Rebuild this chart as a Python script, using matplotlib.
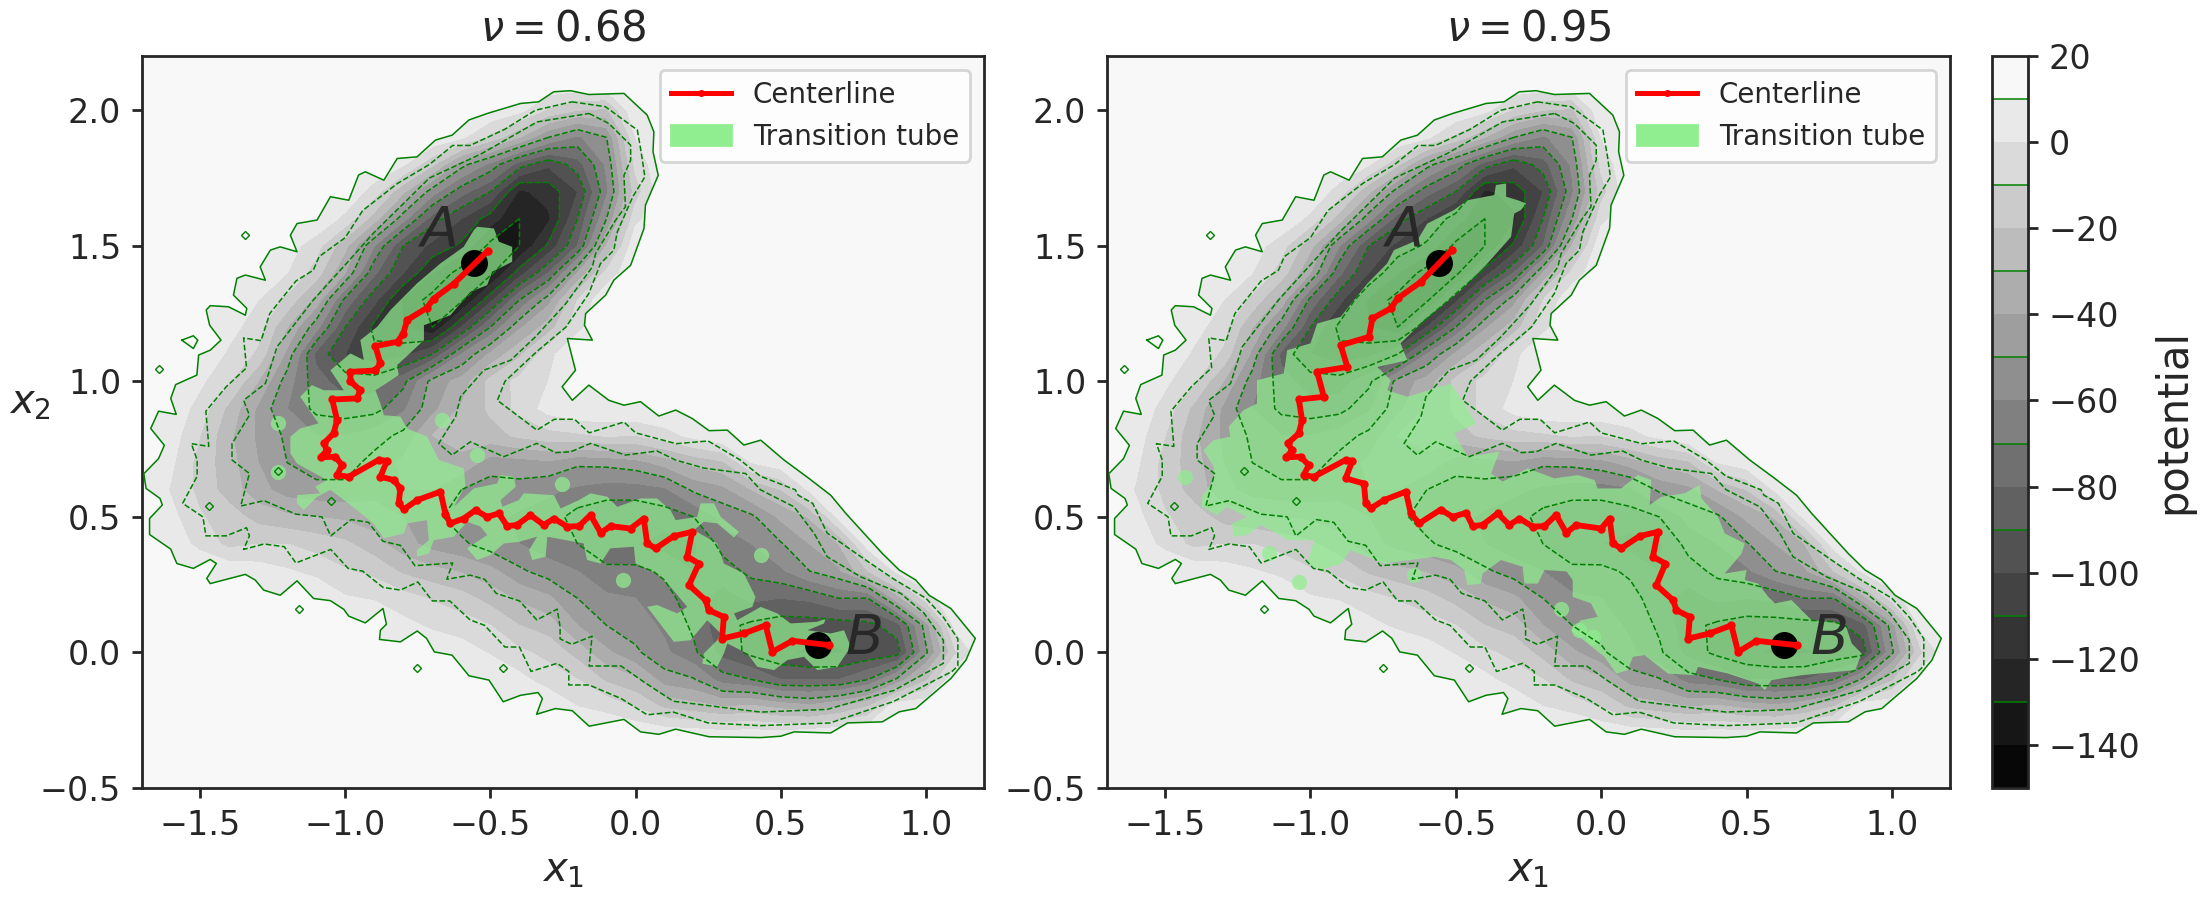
import numpy as np
import matplotlib
matplotlib.use("Agg")
import matplotlib.pyplot as plt
from matplotlib.patches import Patch, Polygon
from matplotlib.lines import Line2D

plt.rcParams["font.family"] = ["DejaVu Sans"]
plt.rcParams["text.color"] = ".15"
plt.rcParams["axes.labelcolor"] = ".15"
plt.rcParams["xtick.color"] = ".15"
plt.rcParams["ytick.color"] = ".15"
plt.rcParams["axes.edgecolor"] = ".15"

# potential surface, top row first
x_grid = [-1.7, -1.6, -1.5, -1.4, -1.3, -1.2, -1.1, -1.0, -0.9, -0.8, -0.7, -0.6, -0.5, -0.4, -0.3,
          -0.2, -0.1, 0.0, 0.1, 0.2, 0.3, 0.4, 0.5, 0.6, 0.7, 0.8, 0.9, 1.0, 1.1, 1.2]
y_grid = [2.2, 2.1, 2.0, 1.9, 1.8, 1.7, 1.6, 1.5, 1.4, 1.3, 1.2, 1.1, 1.0, 0.9, 0.8, 0.7, 0.6, 0.5,
          0.4, 0.3, 0.2, 0.1, 0.0, -0.1, -0.2, -0.3, -0.4, -0.5]
potential = [
    [9] * 30,
    [9] * 30,
    [9] * 12 + [9, 3, -12, -20, -22, 9] + [9] * 12,
    [9] * 10 + [9, 2, -13, -30, -50, -62, -50, 0] + [9] * 12,
    [9] * 8 + [9, 1, -18, -46, -63, -85, -98, -85, -58, -7] + [9] * 12,
    [9] * 7 + [9, -5, -28, -55, -76, -90, -122, -116, -100, -62, -15] + [9] * 12,
    [9] * 6 + [9, -3, -25, -56, -85, -100, -115, -130, -122, -90, -50, -3] + [9] * 12,
    [9] * 5 + [5, -6, -27, -60, -90, -103, -112, -133, -130, -108, -80, -30, 8] + [9] * 12,
    [9] * 3 + [9, 6, 0, -15, -40, -78, -100, -120, -135, -133, -105, -80, -40, -7, 9] + [9] * 12,
    [9] * 3 + [7, 0, -13, -34, -73, -97, -122, -134, -132, -103, -70, -44, -10, 9] + [9] * 13,
    [9] * 2 + [9, 4, -6, -30, -56, -90, -113, -120, -130, -100, -70, -42, -25, -3] + [9] * 14,
    [9] * 2 + [9, -2, -12, -43, -83, -100, -107, -103, -90, -60, -38, -22, -3, 9] + [9] * 14,
    [9, 9, 2, -9, -30, -55, -76, -85, -85, -73, -46, -36, -17, -7, 0, 9] + [9] * 14,
    [9, 7, -4, -23, -42, -60, -73, -76, -74, -62, -43, -29, -18, -7, 4, 9, 9, 9, 9] + [9] * 11,
    [9, 5, -10, -28, -42, -52, -60, -60, -55, -47, -30, -26, -24, -18, -14, -12, -9, -10, -4, 3, 9] + [9] * 9,
    [9, 2, -14, -26, -40, -50, -55, -55, -46, -38, -34, -33, -45, -44, -42, -48, -47, -44, -36, -27, -22, 0, 6] + [9] * 7,
    [9, -1, -13, -25, -36, -45, -47, -47, -44, -40, -40, -50, -55, -54, -58, -62, -65, -65, -62, -48, -43, -30, -20, 2] + [9] * 6,
    [9, 3, -9, -15, -24, -28, -30, -32, -35, -40, -47, -55, -57, -62, -65, -74, -78, -78, -75, -70, -57, -52, -38, -29, 3] + [9] * 5,
    [9, 6, -3, -13, -10, -10, -14, -18, -26, -36, -44, -48, -55, -60, -66, -70, -76, -80, -84, -82, -66, -60, -51, -40, -30, 5] + [9] * 4,
    [9, 9, 9, 7, 5, 1, -3, -9, -13, -22, -27, -31, -37, -48, -55, -60, -68, -67, -72, -80, -75, -67, -62, -50, -42, -20, 2, 9, 9, 9],
    [9, 9, 9, 9, 9, 9, 9, 1, -1, -6, -11, -16, -24, -32, -38, -50, -58, -60, -66, -76, -84, -78, -80, -78, -70, -70, -35, -5, 9, 9],
    [9, 9, 9, 9, 9, 9, 9, 9, 9, 3, -2, -5, -10, -20, -25, -40, -50, -55, -62, -72, -87, -92, -95, -95, -95, -93, -85, -45, 3, 9],
    [9] * 8 + [9, 9, 9, 5, -1, -8, -13, -24, -38, -48, -58, -68, -84, -93, -98, -102, -101, -98, -95, -52, -12, 9],
    [9] * 9 + [9, 9, 9, 9, 3, -5, -10, -22, -28, -45, -49, -65, -70, -80, -80, -80, -70, -48, -22, 8, 9],
    [9] * 12 + [9, 9, 9, 0, -3, -11, -22, -26, -30, -28, -33, -37, -30, -20, 9, 9, 9, 9],
    [9] * 14 + [9, 9, 9, 9, 7, 6, 4, 5, 4, 7, 9] + [9] * 5,
    [9] * 30,
    [9] * 30,
]

# outermost contour (potential = 10)
rim_x = [-1.693, -1.643, -1.623, -1.67, -1.643, -1.582, -1.601, -1.584, -1.511, -1.505, -1.465, -1.428, -1.467, -1.479, -1.465, -1.402, -1.344,
         -1.339, -1.385, -1.373, -1.344, -1.275, -1.293, -1.258, -1.224, -1.166, -1.189, -1.166, -1.097, -1.051, -.988, -.954, -.931, -.867,
         -.821, -.753, -.689, -.632, -.574, -.511, -.396, -.334, -.282, -.224, -.161, -.04, .04, .063, .06, .078, .034, .029, -.017, -.075,
         -.103, -.172, -.176, -.149, -.235, -.207, -.253, -.218, -.161, -.092, -.04, .017, .08, .138, .195, .253, .316, .373, .431, .511,
         .597, .672, .724, .787, .85, .908, .965, 1.011, 1.086, 1.17, 1.138, 1.086, .965, .908, .85, .73, .672, .546, .5, .431, .253, .138,
         .08, .017, -.04, -.16, -.218, -.276, -.341, -.321, -.336, -.396, -.456, -.505, -.574, -.632, -.693, -.72, -.752, -.81, -.882, -.879,
         -.858, -.87, -.931, -.988, -1.005, -1.051, -1.109, -1.166, -1.224, -1.281, -1.31, -1.344, -1.465, -1.477, -1.444, -1.465, -1.523,
         -1.58, -1.601, -1.674, -1.674, -1.63, -1.638, -1.686, -1.693]
rim_y = [.66, .715, .764, .826, .89, .878, .937, .988, 1.023, 1.097, 1.115, 1.152, 1.207, 1.263, 1.279, 1.275, 1.244,
         1.269, 1.318, 1.38, 1.392, 1.373, 1.422, 1.484, 1.496, 1.478, 1.539, 1.582, 1.595, 1.681, 1.668, 1.761, 1.773, 1.742,
         1.822, 1.828, 1.89, 1.908, 1.964, 1.988, 2.025, 2.031, 2.068, 2.072, 2.058, 2.062, 1.982, 1.92, 1.847, 1.76, 1.65, 1.564, 1.428, 1.373,
         1.318, 1.25, 1.207, 1.152, 1.158, 1.041, .98, .93, .986, .93, .912, .925, .872, .894, .863, .818, .82, .765, .783, .71,
         .642, .58, .513, .439, .365, .304, .267, .211, .162, .052, -.028, -.096, -.207, -.219, -.256, -.26, -.297, -.293, -.309, -.314, -.311, -.283,
         -.302, -.293, -.247, -.272, -.215, -.207, -.228, -.17, -.148, -.158, -.182, -.102, -.086, -.01, .002, .052, .079, .039, .048, .082,
         .104, .162, .109, .134, .159, .191, .199, .264, .211, .23, .267, .288, .254, .273, .328, .343, .31,
         .328, .381, .435, .494, .544, .568, .605, .654]

# potential = -10 and -30 contours
minus10_x = [-.219, -.104, .006, .02, .032, -.01, -.063, -.075, -.121, -.161, -.24, -.34, -.45, -.476, -.34, -.28, -.21, -.16, -.04, 0, .14, .25, .36, .43,
             .55, .56, .61, .66, .78, .89, 1.0, 1.06, 1.11, 1.11, 1.09, .89, .67, .43, .25, .13, .04, -.05, -.16, -.23, -.23, -.27, -.36, -.40, -.45, -.52,
             -.57, -.64, -.70, -.75, -.81, -.87, -.94, -.99, -1.05, -1.17, -1.21, -1.28, -1.35, -1.33, -1.34, -1.41, -1.48, -1.49, -1.56, -1.51, -1.51,
             -1.53, -1.47, -1.48, -1.41, -1.34, -1.35, -1.29, -1.26, -1.17, -1.11, -1.09, -1.0, -.94, -.82, -.71, -.63, -.57, -.45, -.345, -.219]
minus10_y = [2.031, 2.013, 1.927, 1.84, 1.754, 1.68, 1.551, 1.484, 1.434, 1.324, 1.2, 1.11, 1.0, .93, .82, .86, .86, .81, .85, .81, .77, .78, .71, .65,
             .60, .58, .55, .44, .35, .27, .20, .13, .05, -.05, -.07, -.18, -.26, -.27, -.26, -.22, -.23, -.17, -.12, -.12, -.07, -.04, -.07, .02, .02, .10,
             .12, .19, .19, .26, .23, .24, .30, .31, .38, .33, .39, .40, .38, .43, .46, .43, .43, .50, .55, .65, .71,
             .77, .76, .89, .98, 1.05, 1.16, 1.15, 1.25, 1.37, 1.41, 1.46, 1.53, 1.63, 1.73, 1.80, 1.87, 1.87, 1.93, 2.0, 2.031]
minus30_x = [-.16, -.092, -.017, -.017, -.04, -.035, -.069, -.138, -.149, -.24, -.345, -.43, -.523, -.603, -.62, -.678, -.632, -.569, -.454, -.34, -.275,
             -.224, -.155, -.035, .074, .137, .235, .327, .379, .43, .546, .615, .66, .775, .913, .994, 1.06, 1.06, .89, .66, .43, .13, .03, -.05, -.16,
             -.15, -.22, -.26, -.26, -.27, -.34, -.40, -.48, -.52, -.57, -.65, -.63, -.76, -.81, -.87, -.92, -.98, -1.05, -1.08, -1.17, -1.28, -1.36,
             -1.33, -1.39, -1.39, -1.33, -1.35, -1.275, -1.235, -1.11, -1.0, -.90, -.71, -.53, -.339, -.16]
minus30_y = [1.988, 1.951, 1.871, 1.816, 1.76, 1.644, 1.594, 1.471, 1.422, 1.287, 1.164, 1.078, 1.041, .943, .869, .771, .728, .777, .722, .771, .737,
             .74, .771, .728, .743, .71, .68, .667, .66, .60, .537, .439, .353, .279, .218, .144, .045, -.04, -.14, -.21, -.22, -.18, -.11, -.05, -.05,
             .06, .03, .05, .095, .16, .12, .19, .218, .27, .285, .27, .33, .32, .395, .41, .48, .49, .43, .50, .51, .56, .54,
             .66, .71, .77, .875, .93, .992, 1.127, 1.30, 1.43, 1.55, 1.75, 1.84, 1.957, 1.988]

# little closed contours scattered around the rim
islet_x = [-1.344, -1.643, -1.16, -.752, -.456, -1.47, -1.05, -1.23]
islet_y = [1.539, 1.044, .162, -.057, -.059, .54, .56, .67]
islet_tri_x = [-1.563, -1.523, -1.508, -1.523, -1.563]
islet_tri_y = [1.152, 1.168, 1.152, 1.121, 1.152]

# transition tube outlines, nu = 0.68
tube_068_x = [-.546, -.488, -.471, -.425, -.425, -.494, -.511, -.569, -.638, -.729, -.729, -.821, -.816, -.896, -.879, -.867, -.81,
              -.787, -.718, -.678, -.592, -.586, -.626, -.557, -.477, -.465, -.419, -.413, -.465, -.459, -.402, -.385, -.281, -.258,
              -.195, -.155, -.097, -.063, .017, .074, .12, .138, .212, .224, .27, .293, .356, .339, .281, .235, .201, .281, .304, .373,
              .413, .402, .339, .35, .431, .488, .534, .626, .655, .649, .592, .672, .718, .741, .695, .626, .58, .523, .477, .419, .385,
              .316, .304, .281, .23, .235, .281, .293, .247, .189, .132, .04, .074, .143, .178, .12, .074, 0.0, -.006, -.087, -.121, -.167,
              -.179, -.304, -.31, -.356, -.367, -.339, -.402, -.454, -.5, -.546, -.58, -.511, -.534, -.58, -.626, -.695, -.712, -.753, -.753,
              -.712, -.718, -.787, -.798, -.867, -.902, -.982, -1.051, -1.097, -1.143, -1.166, -1.166, -1.086, -1.103, -1.063, -1.166, -1.189,
              -1.189, -1.155, -1.092, -1.155, -1.115, -1.074, -1.005, -1.051, -.982, -.936, -.948, -.89, -.844, -.753, -.672, -.592, -.557]
tube_068_y = [1.57, 1.564, 1.515, 1.496, 1.441, 1.404, 1.355, 1.33, 1.244, 1.207, 1.152, 1.06, 1.023, .967, .918, .875, .87,
              .826, .796, .71, .679, .617, .537, .605, .623, .654, .648, .611, .562, .537, .562, .587, .58, .531,
              .562, .587, .574, .537, .568, .568, .525, .488, .5, .55, .55, .5, .445, .424, .476, .482, .451, .402, .328, .291,
              .205, .168, .144, .119, .168, .144, .107, .113, .125, .107, .082, .07, .082, .021, -.053, -.065, -.016, -.028, -.065, -.053, -.004,
              .033, -.004, -.053, -.041, -.004, .045, .07, .119, .045, .039, .168, .175, .144, .168, .242, .291, .328, .39, .384, .328, .341,
              .402, .427, .353, .341, .377, .427, .408, .402, .359, .341, .384, .433, .464, .482, .427, .414, .365, .353, .377,
              .414, .488, .476, .439, .421, .476, .544, .6, .574, .525, .55, .58, .587, .611, .636, .697, .734,
              .796, .826, .845, .943, .986, .967, .967, 1.041, 1.103, 1.078, 1.152, 1.201, 1.263, 1.361, 1.435, 1.496, 1.558]
spots_068_x = [-.666, -1.23, -.546, -1.23, -.253, -.045, .431]
spots_068_y = [.857, .847, .728, .667, .623, .267, .359]

# transition tube outlines, nu = 0.95
tube_095_x = [-.46, -.368, -.362, -.327, -.327, -.287, -.258, -.276, -.299, -.31, -.402, -.483, -.552, -.609, -.69, -.667, -.77, -.724,
              -.736, -.667, -.517, -.471, -.431, -.506, -.46, -.35, -.379, -.339, -.253, -.161, -.08, -.023, -.012, .069, .126, .172, .167,
              .207, .287, .339, .345, .402, .425, .494, .483, .425, .5, .494, .54, .575, .598, .655, .724, .839, .862, .896, .874, .747, .69,
              .586, .563, .54, .437, .333, .322, .23, .149, .109, .092, .052, .011, -.104, -.069, -.012, -.035, -.098, -.098, -.138, -.092,
              -.195, -.218, -.264, -.27, -.345, -.408, -.414, -.46, -.471, -.517, -.575, -.655, -.747, -.804, -.862, -.896, -.965, -1.011,
              -.988, -1.08, -1.115, -1.172, -1.218, -1.264, -1.27, -1.218, -1.287, -1.322, -1.373, -1.373, -1.333, -1.333, -1.368, -1.333,
              -1.276, -1.281, -1.23, -1.184, -1.184, -1.092, -1.08, -1.0, -.977, -.896, -.804, -.736, -.713, -.632, -.598, -.506]
tube_095_y = [1.668, 1.687, 1.724, 1.73, 1.681, 1.668, 1.656, 1.632, 1.619, 1.533, 1.422, 1.336, 1.275, 1.226, 1.14, 1.078, 1.053, 1.004,
              .967, .943, .992, .918, .844, .808, .722, .74, .66, .63, .679, .642, .654, .636, .605, .605, .654, .636, .544,
              .574, .587, .617, .568, .5, .439, .402, .365, .291, .304, .267, .254, .205, .181, .193, .119, .107, .033, -.004, -.065, -.078, -.084,
              -.102, -.139, -.115, -.078, -.053, -.084, -.078, -.01, -.016, -.065, -.078, -.016, .082, .119, .131, .181, .205, .267, .328, .297,
              .304, .254, .254, .316, .341, .291, .254, .248, .304, .341, .353, .341, .328, .353, .377, .328, .304, .328,
              .414, .414, .439, .47, .433, .427, .476, .5, .537, .507, .537, .574, .636, .685, .746, .783,
              .796, .833, .894, .918, 1.004, 1.029, 1.115, 1.14, 1.213, 1.238, 1.361, 1.435, 1.484, 1.521, 1.582, 1.632]
spots_095_x = [-1.431, -1.144, -1.04, -.644, -.029, -.075, -.138]
spots_095_y = [.646, .365, .26, .285, .058, .082, .162]

# centerlines
center_068_x = [-.51, -.626, -.695, -.72, -.787, -.80, -.82, -.896, -.879, -.896, -.982, -.982, -.948, -.96, -1.045, -1.028, -1.04,
                -1.074, -1.063, -1.084, -1.034, -1.011, -1.028, -.988, -.885, -.856, -.879, -.833, -.81, -.816, -.798, -.752, -.672,
                -.655, -.638, -.592, -.551, -.511, -.471, -.442, -.408, -.362, -.316, -.281, -.235, -.195, -.155, -.12, -.086, -.017,
                .028, .04, .069, .132, .195, .178, .218, .184, .241, .252, .304, .298, .373, .448, .471, .54, .666]
center_068_y = [1.48, 1.36, 1.305, 1.27, 1.226, 1.176, 1.146, 1.13, 1.066, 1.04, 1.035, 1.0, .967, .937, .933, .857, .808,
                .771, .746, .72, .722, .691, .654, .648, .71, .707, .648, .636, .605, .55, .528, .562, .593,
                .512, .476, .494, .525, .5, .513, .466, .47, .507, .47, .494, .464, .466, .507, .441, .466, .457,
                .494, .402, .384, .429, .445, .353, .328, .248, .193, .156, .131, .051, .07, .1, .002, .043, .027]
center_095_x = [-.514, -.62, -.70, -.724, -.787, -.799, -.896, -.873, -.977, -.954, -1.04, -1.029, -1.04, -1.078, -1.063, -1.083, -1.034,
                -1.006, -1.023, -.988, -.879, -.856, -.879, -.816, -.81, -.793, -.747, -.672, -.655, -.626, -.552, -.511, -.465, -.442,
                -.408, -.356, -.316, -.281, -.235, -.195, -.155, -.12, -.086, 0.0, .029, .04, .069, .132, .195, .178, .221, .19, .247, .259,
                .305, .299, .373, .448, .471, .534, .672]
center_095_y = [1.484, 1.367, 1.306, 1.269, 1.232, 1.164, 1.133, 1.053, 1.035, .943, .933, .857, .808, .771, .746, .72, .722,
                .691, .654, .648, .71, .707, .642, .623, .55, .531, .562, .593, .513, .476, .527, .5, .515, .466,
                .47, .513, .47, .494, .464, .466, .507, .441, .47, .457, .494, .402, .384, .429, .445, .353, .328, .248, .193, .156,
                .131, .051, .07, .1, .002, .043, .027]

state_a = (-0.557, 1.438)
state_b = (0.628, 0.027)
nus = [0.68, 0.95]
fill_levels = np.arange(-150, 30, 10)
line_levels = np.arange(-130, 30, 20)
cbar_ticks = [20, 0, -20, -40, -60, -80, -100, -120, -140]

W, H = 2200, 900
fig = plt.figure(figsize=(11, 4.5), dpi=200)
ax1 = fig.add_axes([142 / W, 1 - 788 / H, 842 / W, 732 / H])
ax2 = fig.add_axes([1107 / W, 1 - 788 / H, 843 / W, 732 / H])
cax = fig.add_axes([1992 / W, 1 - 788 / H, 36 / W, 732 / H])

panels = [
    (ax1, nus[0], tube_068_x, tube_068_y, spots_068_x, spots_068_y, center_068_x, center_068_y),
    (ax2, nus[1], tube_095_x, tube_095_y, spots_095_x, spots_095_y, center_095_x, center_095_y),
]

line_kw = dict(color="green", lw=0.55, zorder=3)

for ax, nu, tx, ty, sx, sy, cx, cy in panels:
    ax.set_facecolor(plt.get_cmap("gray")(165 / 170))
    cf = ax.contourf(x_grid, y_grid, potential, levels=fill_levels, cmap="gray")
    cf.set_clip_path(Polygon(np.column_stack([rim_x, rim_y]), transform=ax.transData))
    ax.fill(tx, ty, color="lightgreen", alpha=0.72, lw=0, zorder=2)
    ax.scatter(sx, sy, s=30, color="lightgreen", alpha=0.72, lw=0, zorder=2)
    ax.contour(x_grid, y_grid, potential, levels=line_levels[line_levels < -30], colors="green",
               linewidths=0.55, zorder=3)
    ax.plot(rim_x, rim_y, **line_kw)
    ax.plot(minus10_x, minus10_y, ls="--", **line_kw)
    ax.plot(minus30_x, minus30_y, ls="--", **line_kw)
    ax.plot(islet_tri_x, islet_tri_y, **line_kw)
    ax.plot(islet_x, islet_y, ls="none", marker="D", ms=2, mfc="none", mec="green", mew=0.5, zorder=3)
    ax.plot(state_a[0], state_a[1], "o", color="black", ms=9.7, mew=0, zorder=4)
    ax.plot(state_b[0], state_b[1], "o", color="black", ms=9.7, mew=0, zorder=4)
    ax.plot(cx, cy, color="red", lw=2.1, marker=".", ms=4, zorder=5)
    ax.text(-0.75, 1.5, "$A$", fontsize=20, alpha=0.95, zorder=6)
    ax.text(0.72, -0.004, "$B$", fontsize=20, alpha=0.95, zorder=6)

    ax.set_xlim(-1.7, 1.2)
    ax.set_ylim(-0.5, 2.2)
    ax.set_xticks([-1.5, -1.0, -0.5, 0.0, 0.5, 1.0])
    ax.set_yticks([-0.5, 0.0, 0.5, 1.0, 1.5, 2.0])
    ax.tick_params(labelsize=12, length=3.5, width=1, pad=4)
    ax.set_xlabel("$x_1$", fontsize=14.5, labelpad=3)
    ax.set_title(rf"$\nu = {nu}$", fontsize=15, pad=5.5)
    for s in ax.spines.values():
        s.set_linewidth(1.0)
    handles = [
        Line2D([0], [0], color="red", lw=1.8, marker=".", ms=3),
        Patch(color="lightgreen"),
    ]
    ax.legend(handles, ["Centerline", "Transition tube"], loc="upper right", fontsize=10, framealpha=0.8,
              handlelength=2.15)

ax1.set_ylabel("$x_2$", fontsize=14.5, rotation=0, labelpad=3.5)

cb = fig.colorbar(cf, cax=cax)
cb.add_lines(line_levels, ["green"] * len(line_levels), [0.55] * len(line_levels))
cb.set_ticks(cbar_ticks)
cb.ax.tick_params(labelsize=12, length=3.5, width=1, pad=4)
cb.outline.set_linewidth(1.0)
cb.set_label("potential", fontsize=15, labelpad=4)

fig.savefig("out.png", dpi=200)
